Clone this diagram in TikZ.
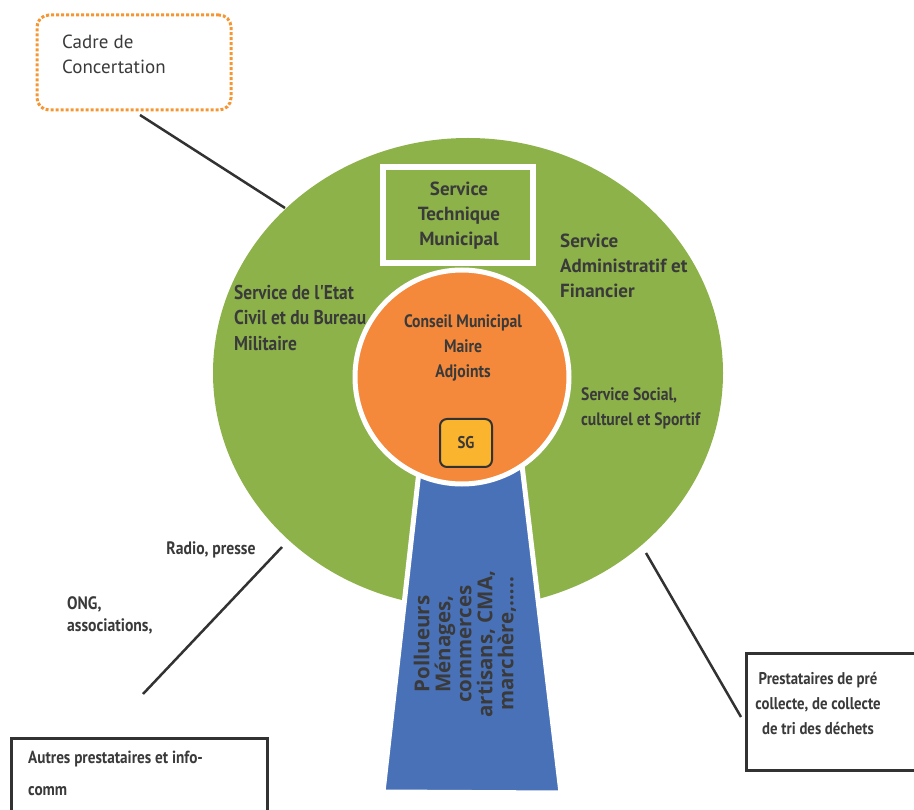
\documentclass[tikz,border=0pt]{standalone}
\usepackage{fontspec}
\setmainfont{PT Sans}
\newfontfamily\condf[FakeStretch=0.87]{PT Sans}
\newfontfamily\osf{Open Sans}
\usetikzlibrary{shapes.geometric}
\definecolor{grn}{RGB}{141,178,74}
\definecolor{org}{RGB}{244,137,59}
\definecolor{blu}{RGB}{72,113,184}
\definecolor{ylw}{RGB}{251,180,45}
\definecolor{txt}{RGB}{58,58,58}
\definecolor{dot}{RGB}{245,150,50}
\definecolor{lin}{RGB}{50,50,50}
\tikzset{
  cond/.style={font=\condf\bfseries\fontsize{18}{25}\selectfont, text=txt, inner sep=0pt},
  semi/.style={font=\bfseries\fontsize{19}{25}\selectfont, text=txt, inner sep=0pt},
  link/.style={draw=lin, line width=2.5pt},
  framebox/.style={draw=lin, line width=3pt, fill=white}
}
\begin{document}
\begin{tikzpicture}[x=1pt,y=-1pt]
\useasboundingbox (0,0) rectangle (914,810);
% green ellipse
\node[ellipse, fill=grn, minimum width=510pt, minimum height=470pt, inner sep=0pt] (green) at (468,373) {};
% blue trapezoid
\fill[blu, draw=white, line width=5pt] (422.5,440) -- (519,440) -- (561,793) -- (383,792) -- cycle;
\coordinate (blue) at (465,644);
% orange circle
\node[circle, fill=org, draw=white, line width=5pt, minimum size=214pt, inner sep=0pt] (core) at (462,377) {};
% SG box
\node[draw=lin, line width=2pt, fill=ylw, rounded corners=7pt, minimum width=52pt, minimum height=48pt, font=\condf\bfseries\fontsize{17}{20}\selectfont, text=txt] (sg) at (466,443) {SG};
% Service technique box
\node[draw=white, line width=6pt, minimum width=150pt, minimum height=96pt] (stm) at (458,215) {};
\node[semi, align=center] (stmt) at (459,216) {Service\\Technique\\Municipal};
% labels inside
\node[cond, align=center] (cm) at (463,348) {Conseil Municipal\\Maire\\Adjoints};
\node[semi, align=left, anchor=north west] (saf) at (560,234) {Service\\Administratif et\\Financier};
\node[cond, align=left, anchor=north west] (ssc) at (581,387) {Service Social,\\culturel et Sportif};
\node[cond, font=\condf\bfseries\fontsize{20}{25.5}\selectfont, align=left, anchor=north west] (sec) at (234,285) {Service de l'Etat\\Civil et du Bureau\\Militaire};
% blue text
\node[rotate=90, align=center, font=\osf\bfseries\fontsize{20.5}{21}\selectfont, text=txt, inner sep=0pt] (pol) at (blue) {Pollueurs\\Ménages,\\commerces\\artisans, CMA,\\marchère,…..};
% Cadre de concertation
\node[draw=dot, line width=3pt, dotted, rounded corners=12pt, minimum width=194pt, minimum height=95pt] (cadre) at (134,62.5) {};
\node[font=\fontsize{19}{25}\selectfont, text=txt, align=left, anchor=north west, inner sep=0pt] (cadret) at (62,35) {Cadre de\\Concertation};
\coordinate (c1) at (140,115);
\coordinate (c2) at (285,208);
\draw[link] (c1) -- (c2);
% Radio line
\node[cond, font=\condf\bfseries\fontsize{18}{22}\selectfont] (radio) at (211,550) {Radio, presse};
\node[cond, font=\condf\bfseries\fontsize{18}{22}\selectfont, align=left, anchor=north west] (ong) at (67,596) {ONG,\\associations,};
\coordinate (r1) at (282,547);
\coordinate (r2) at (143,694);
\draw[link] (r1) -- (r2);
% bottom left box
\draw[framebox] (11,738) rectangle (267,820);
\node[cond, font=\condf\bfseries\fontsize{17.5}{32}\selectfont, align=left, anchor=north west] (autres) at (28,751) {Autres prestataires et info-\\comm};
% right
\coordinate (p1) at (646,553);
\coordinate (p2) at (741,717);
\draw[link] (p1) -- (p2);
\draw[framebox] (746,653) rectangle (925,770);
\node[cond, font=\condf\bfseries\fontsize{17}{25}\selectfont, align=center] (prest) at (818,703) {Prestataires de pré\\collecte, de collecte\\de tri des déchets};
\end{tikzpicture}
\end{document}
